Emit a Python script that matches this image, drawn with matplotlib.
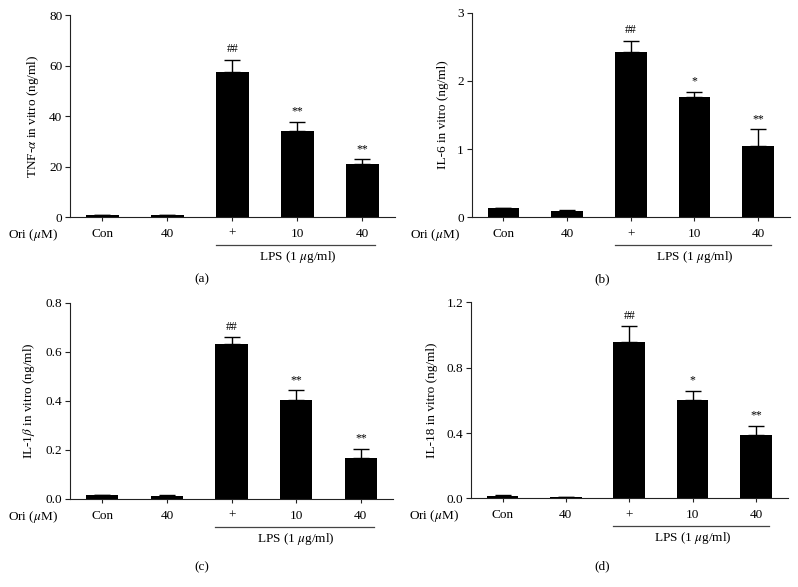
import matplotlib
matplotlib.use("Agg")
import matplotlib.pyplot as plt

plt.rcParams["font.family"] = ["Liberation Serif", "DejaVu Serif"]
plt.rcParams["mathtext.fontset"] = "stix"
plt.rcParams["font.size"] = 9.5

groups = ["Con", "40", "+", "10", "40"]

tnf = [0.6, 0.7, 57.5, 34.0, 21.0]
tnf_err = [0.2, 0.2, 4.9, 3.8, 1.8]
tnf_marks = ["", "", "##", "**", "**"]

il6 = [0.13, 0.09, 2.43, 1.77, 1.05]
il6_err = [0.01, 0.01, 0.16, 0.07, 0.24]
il6_marks = ["", "", "##", "*", "**"]

il1b = [0.016, 0.014, 0.630, 0.402, 0.168]
il1b_err = [0.002, 0.002, 0.028, 0.041, 0.037]
il1b_marks = ["", "", "##", "**", "**"]

il18 = [0.015, 0.010, 0.957, 0.603, 0.386]
il18_err = [0.003, 0.001, 0.100, 0.057, 0.060]
il18_marks = ["", "", "##", "*", "**"]

fig = plt.figure(figsize=(7.98, 5.87), dpi=100)


def panel(rect, vals, errs, marks, ylabel, yticks, ylabels, letter, letter_xy):
    ax = fig.add_axes(rect)
    x = range(len(vals))
    ax.bar(x, vals, width=0.5, color="black")
    ax.errorbar(x, vals, yerr=[[0] * len(errs), errs], fmt="none",
                ecolor="black", elinewidth=1.0, capsize=6, capthick=1.0)
    for i, (v, e, m) in enumerate(zip(vals, errs, marks)):
        if m:
            ax.annotate(m, xy=(i, v + e), xytext=(0, 3), textcoords="offset points",
                        ha="center", va="bottom", fontsize=8.5)
    ax.set_xlim(-0.5, len(vals) - 0.5)
    ax.set_ylim(yticks[0], yticks[-1])
    ax.set_yticks(yticks)
    ax.set_yticklabels(ylabels)
    ax.set_xticks(list(x))
    ax.set_xticklabels(groups)
    ax.set_ylabel(ylabel, labelpad=6)
    for s in ["top", "right"]:
        ax.spines[s].set_visible(False)
    for s in ["left", "bottom"]:
        ax.spines[s].set_linewidth(0.8)
        ax.spines[s].set_color("#222222")
    ax.tick_params(axis="y", length=3.5, width=0.8, pad=2, color="#222222")
    ax.tick_params(axis="x", length=3, width=0.8, pad=5, color="#222222")
    ax.annotate(r"Ori ($\mu$M)", xy=(0, 0), xycoords="axes fraction",
                xytext=(-12, -18), textcoords="offset pixels",
                ha="right", va="center")
    # LPS line under the treated groups
    line = ax.get_xaxis_transform()
    ax.plot([1.75, 4.2], [-28 / (rect[3] * 587)] * 2, color="#444444", lw=0.9,
            transform=line, clip_on=False)
    ax.text(3.0, -40 / (rect[3] * 587), r"LPS (1 $\mu$g/ml)", transform=line,
            ha="center", va="center")
    fig.text(letter_xy[0], letter_xy[1], letter, ha="center", va="center")
    return ax


panel([0.0877, 0.6303, 0.407, 0.344], tnf, tnf_err, tnf_marks,
      r"TNF-$\alpha$ in vitro (ng/ml)", [0, 20, 40, 60, 80],
      ["0", "20", "40", "60", "80"], "(a)", (0.2527, 1 - 279 / 587))
panel([0.591, 0.6298, 0.399, 0.3486], il6, il6_err, il6_marks,
      "IL-6 in vitro (ng/ml)", [0, 1, 2, 3],
      ["0", "1", "2", "3"], "(b)", (0.754, 1 - 279 / 587))
panel([0.0877, 0.150, 0.405, 0.3344], il1b, il1b_err, il1b_marks,
      r"IL-1$\beta$ in vitro (ng/ml)", [0, 0.2, 0.4, 0.6, 0.8],
      ["0.0", "0.2", "0.4", "0.6", "0.8"], "(c)", (0.2527, 1 - 567.5 / 587))
panel([0.590, 0.151, 0.397, 0.3339], il18, il18_err, il18_marks,
      "IL-18 in vitro (ng/ml)", [0, 0.4, 0.8, 1.2],
      ["0.0", "0.4", "0.8", "1.2"], "(d)", (0.754, 1 - 566 / 587))

fig.savefig("out.png", dpi=100)
